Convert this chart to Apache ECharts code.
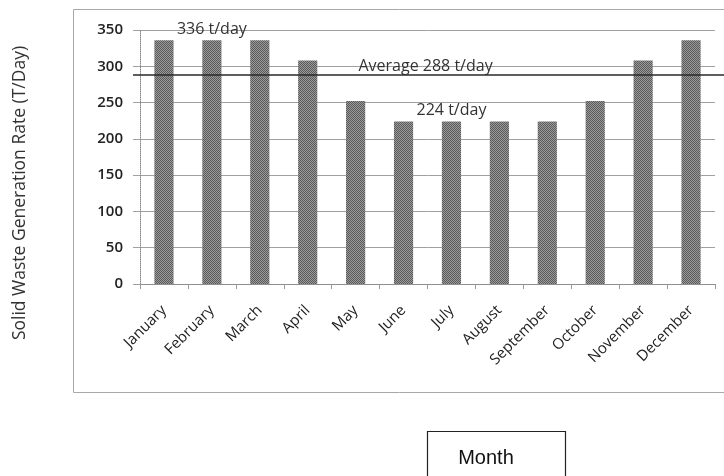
<!DOCTYPE html>
<html>
<head>
<meta charset="utf-8">
<script src="https://cdn.jsdelivr.net/npm/echarts@6/dist/echarts.min.js"></script>
<style>
  html, body { margin: 0; padding: 0; background: #fff; }
  #chart { width: 724px; height: 476px; }
</style>
</head>
<body>
<div id="chart"></div>
<script>
// Monthly solid waste generation (tonnes per day)
const months = ['January', 'February', 'March', 'April', 'May', 'June',
                'July', 'August', 'September', 'October', 'November', 'December'];
const wasteRate = [336, 336, 336, 308, 252, 224, 224, 224, 224, 252, 308, 336];
const averageRate = 288;
const yTicks = [0, 50, 100, 150, 200, 250, 300, 350];
const peakLabel = '336 t/day';
const lowLabel = '224 t/day';
const averageLabel = 'Average 288 t/day';

// fine stipple texture for the bars
function stipple() {
  const c = document.createElement('canvas');
  c.width = 2; c.height = 2;
  const g = c.getContext('2d');
  g.fillStyle = '#9a9a9a'; g.fillRect(0, 0, 2, 2);
  g.fillStyle = '#5a5a5a'; g.fillRect(0, 0, 1, 1); g.fillRect(1, 1, 1, 1);
  return c;
}

const chart = echarts.init(document.getElementById('chart'), null, { renderer: 'canvas' });
const font = '"Open Sans", "DejaVu Sans", sans-serif';
const yMax = yTicks[yTicks.length - 1];
const yStep = yTicks[1] - yTicks[0];

const barData = wasteRate.map((v, i) => {
  const item = { value: v };
  if (i === 1) item.label = { show: true, formatter: peakLabel };
  if (i === 6) item.label = { show: true, formatter: lowLabel };
  return item;
});

chart.setOption({
  animation: false,
  backgroundColor: '#fff',
  grid: [
    { left: 140, right: 9, top: 30, bottom: 192, containLabel: false },
    { left: 133, right: 0, top: 30, bottom: 192, containLabel: false }
  ],
  xAxis: [
    {
      type: 'category', gridIndex: 0, data: months,
      axisLine: { lineStyle: { color: '#8a8a8a', type: 'dotted', width: 1 } },
      axisTick: { show: true, alignWithLabel: false, length: 5, lineStyle: { color: '#999' } },
      axisLabel: { rotate: 45, margin: 24, interval: 0, color: '#222', fontFamily: font, fontSize: 15 }
    },
    { type: 'value', gridIndex: 1, min: 0, max: 1, show: false }
  ],
  yAxis: [
    {
      type: 'value', gridIndex: 0, min: yTicks[0], max: yMax, interval: yStep,
      axisLine: { show: true, lineStyle: { color: '#8a8a8a', type: 'dotted' } },
      axisTick: { show: true, inside: false, length: 7, lineStyle: { color: '#a0a0a0' } },
      axisLabel: { margin: 17, color: '#222', fontFamily: font, fontSize: 15, fontWeight: 600 },
      splitLine: { show: true, lineStyle: { color: '#a0a0a0', width: 1 } }
    },
    { type: 'value', gridIndex: 1, min: yTicks[0], max: yMax, show: false }
  ],
  series: [
    {
      type: 'bar', xAxisIndex: 0, yAxisIndex: 0,
      data: barData,
      barWidth: '40%',
      itemStyle: { color: { image: stipple(), repeat: 'repeat' } },
      label: { show: false, position: 'top', distance: 3, color: '#333', fontFamily: font, fontSize: 16 }
    },
    {
      type: 'line', xAxisIndex: 1, yAxisIndex: 1,
      data: [
        { value: [0, averageRate] },
        { value: [0.495, averageRate], label: { show: true, formatter: averageLabel } },
        { value: [1, averageRate] }
      ],
      symbol: 'circle',
      symbolSize: 0,
      showSymbol: true,
      showAllSymbol: true,
      label: { show: false, position: 'top', distance: 1, color: '#333', fontFamily: font, fontSize: 16 },
      lineStyle: { color: '#2a2a2a', width: 1.5 },
      itemStyle: { color: '#2a2a2a' },
      silent: true
    }
  ],
  graphic: [
    {
      type: 'rect', silent: true, z: -1,
      shape: { x: 73.5, y: 9.5, width: 700, height: 383 },
      style: { fill: 'none', stroke: '#a8a8a8', lineWidth: 1 }
    },
    {
      type: 'text', silent: true,
      x: 20, y: 193, rotation: Math.PI / 2,
      style: { text: 'Solid Waste Generation Rate (T/Day)', fill: '#333', font: '17.5px ' + font, align: 'center', verticalAlign: 'middle' }
    },
    {
      type: 'rect', silent: true,
      shape: { x: 427.5, y: 431.5, width: 138, height: 60 },
      style: { fill: '#fff', stroke: '#222', lineWidth: 1.2 }
    },
    {
      type: 'text', silent: true,
      x: 486, y: 458,
      style: { text: 'Month', fill: '#111', font: '20px "Liberation Sans", Arial, sans-serif', align: 'center', verticalAlign: 'middle' }
    }
  ]
});
</script>
</body>
</html>
